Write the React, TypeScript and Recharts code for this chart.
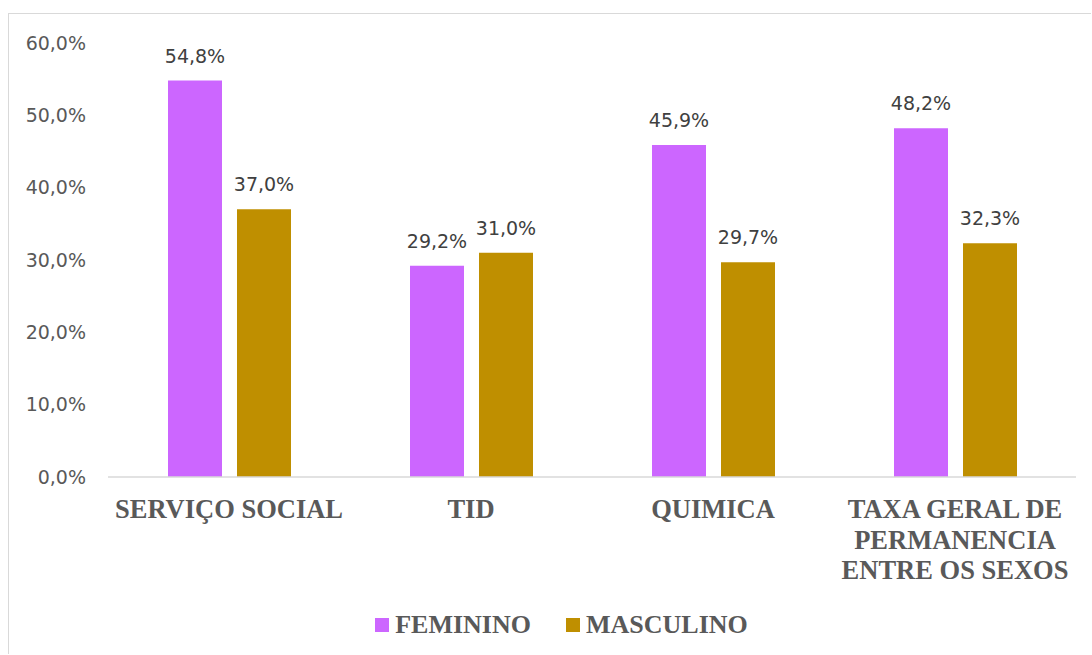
import React from 'react';
import { BarChart, Bar, XAxis, YAxis, Legend, LabelList } from 'recharts';

const categoryLines = [
    ['SERVIÇO SOCIAL'],
    ['TID'],
    ['QUIMICA'],
    ['TAXA GERAL DE', 'PERMANENCIA', 'ENTRE OS SEXOS'],
];
const categories = categoryLines.map(lines => lines.join(' '));
const feminino = [54.8, 29.2, 45.9, 48.2];
const masculino = [37.0, 31.0, 29.7, 32.3];
const yTicks = [0, 10, 20, 30, 40, 50, 60];

const seriesInfo = [
    { key: 'feminino', name: 'FEMININO', color: '#CC66FF' },
    { key: 'masculino', name: 'MASCULINO', color: '#BF8F00' },
];

const data = categories.map((category, i) => ({
    category,
    feminino: feminino[i],
    masculino: masculino[i],
}));

const pct = (v: number) => v.toFixed(1).replace('.', ',') + '%';

const CategoryTick = (props: any) => {
    const { x, y, index } = props;
    const lines = categoryLines[index] || [props.payload.value];
    return (
        <text
            x={x}
            y={y}
            textAnchor="middle"
            fill="#595959"
            fontFamily="'Liberation Serif', 'Times New Roman', serif"
            fontWeight="bold"
            fontSize={26.5}
        >
            {lines.map((line: string, i: number) => (
                <tspan key={i} x={x} y={y + 41 + i * 30.5}>
                    {line}
                </tspan>
            ))}
        </text>
    );
};

const LegendContent = () => (
    <div
        style={{
            height: 28,
            display: 'flex',
            justifyContent: 'center',
            alignItems: 'center',
            gap: 35,
            paddingLeft: 38,
            fontFamily: "'Liberation Serif', 'Times New Roman', serif",
            fontWeight: 'bold',
            fontSize: 26,
            color: '#595959',
        }}
    >
        {seriesInfo.map(s => (
            <div key={s.key} style={{ display: 'flex', alignItems: 'center' }}>
                <span
                    style={{
                        display: 'inline-block',
                        width: 14,
                        height: 14,
                        background: s.color,
                        marginRight: 6,
                    }}
                />
                {s.name}
            </div>
        ))}
    </div>
);

export default function App() {
    return (
        <div
            style={{
                position: 'absolute',
                left: 8,
                top: 13,
                width: 1082,
                height: 640,
                borderLeft: '1px solid #d9d9d9',
                borderTop: '1px solid #d9d9d9',
                background: '#fff',
            }}
        >
            <BarChart
                width={1082}
                height={640}
                data={data}
                margin={{ top: 29, right: 15, left: 0, bottom: 15 }}
                barSize={54}
                barGap={15}
            >
                <XAxis
                    dataKey="category"
                    height={134}
                    interval={0}
                    tickLine={false}
                    tickSize={0}
                    tickMargin={0}
                    axisLine={{ stroke: '#d9d9d9', strokeWidth: 1.5 }}
                    tick={<CategoryTick />}
                />
                <YAxis
                    width={99}
                    domain={[0, 60]}
                    ticks={yTicks}
                    tickFormatter={pct}
                    axisLine={false}
                    tickLine={false}
                    tickSize={0}
                    tickMargin={22}
                    tick={{ fill: '#595959', fontSize: 19, fontFamily: "'DejaVu Sans', sans-serif" }}
                />
                <Legend verticalAlign="bottom" content={<LegendContent />} />
                {seriesInfo.map(s => (
                    <Bar key={s.key} dataKey={s.key} name={s.name} fill={s.color} isAnimationActive={false}>
                        <LabelList
                            dataKey={s.key}
                            position="top"
                            offset={18}
                            formatter={(v: any) => pct(Number(v))}
                            fill="#404040"
                            fontSize={19}
                            fontFamily="'DejaVu Sans', sans-serif"
                        />
                    </Bar>
                ))}
            </BarChart>
        </div>
    );
}
